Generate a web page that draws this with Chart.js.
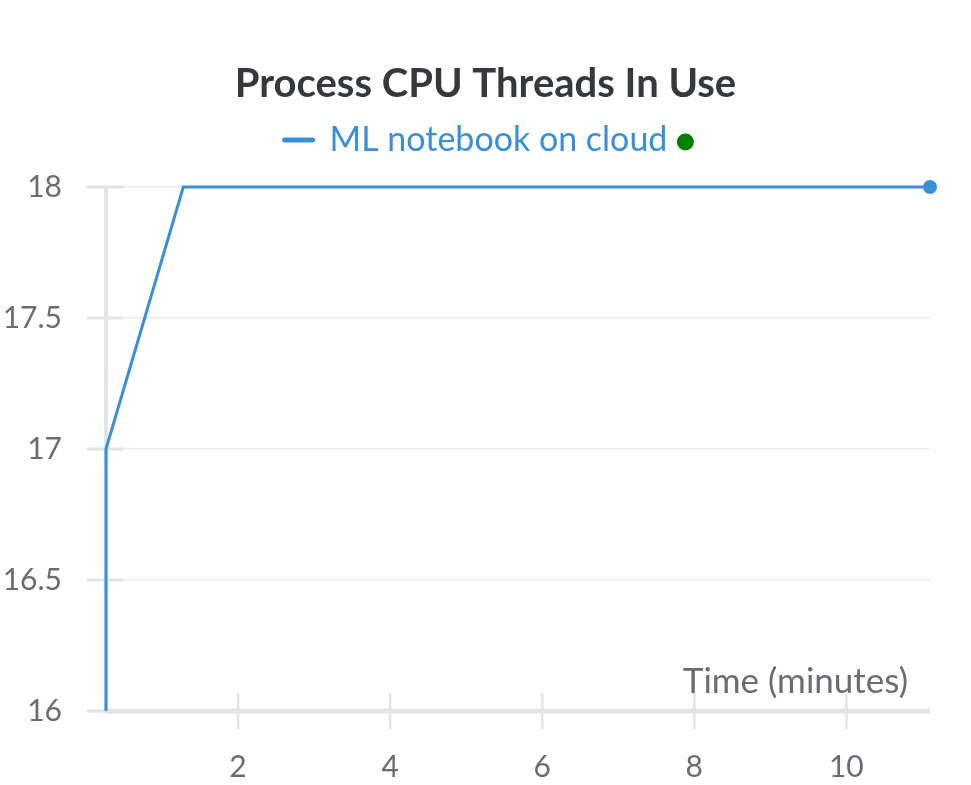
<!DOCTYPE html>
<html><head><meta charset="utf-8">
<script src="https://cdn.jsdelivr.net/npm/chart.js@4/dist/chart.umd.min.js"></script>
<style>html,body{margin:0;padding:0;background:#fff}#wrap{width:971px;height:785px;position:relative}</style>
</head><body><div id="wrap"><canvas id="c"></canvas></div>
<script>
const chartTitle = 'Process CPU Threads In Use';
const seriesLabel = 'ML notebook on cloud';
const xAxisTitle = 'Time (minutes)';
const timeMinutes = [0.263, 0.263, 1.28, 3, 5, 7, 9, 11.1];
const threads = [16, 17, 18, 18, 18, 18, 18, 18];
const xTickValues = [2, 4, 6, 8, 10];
const yTickValues = [16, 16.5, 17, 17.5, 18];

const FONT = 'Lato';
const AXIS_GREY = '#e4e4e6';
const LABEL_GREY = '#6b6b76';
const BLUE = '#3a8fdc';

const headerPlugin = {
  id: 'headerLayout',
  beforeLayout(chart) {
    const lg = chart.legend;
    if (lg && !lg._spaced) {
      const f = lg.fit.bind(lg);
      lg.fit = function () { f(); this.height += 20; };
      lg._spaced = true;
    }
  },
  afterLayout(chart) {
    // centre title and legend (with status dot) on the full canvas width
    if (chart.titleBlock) { chart.titleBlock.left = 0; chart.titleBlock.right = chart.width; chart.titleBlock.width = chart.width; }
    if (chart.legend) { chart.legend.left = 0; chart.legend.right = chart.width - 19; chart.legend.width = chart.width - 19; }
  }
};

const axisPlugin = {
  id: 'axisDecor',
  beforeDatasetsDraw(chart) {
    const {ctx, chartArea: a, scales} = chart;
    ctx.save();
    ctx.strokeStyle = AXIS_GREY;
    ctx.lineWidth = 4;
    ctx.beginPath(); ctx.moveTo(a.left, a.top); ctx.lineTo(a.left, a.bottom + 2); ctx.stroke();
    ctx.lineWidth = 3;
    yTickValues.forEach(v => {
      const y = scales.y.getPixelForValue(v);
      ctx.beginPath(); ctx.moveTo(a.left - 19, y); ctx.lineTo(a.left + 17, y); ctx.stroke();
    });
    ctx.lineWidth = 5;
    ctx.beginPath(); ctx.moveTo(a.left, a.bottom); ctx.lineTo(a.right, a.bottom); ctx.stroke();
    ctx.lineWidth = 2.5;
    xTickValues.forEach(v => {
      const x = scales.x.getPixelForValue(v);
      ctx.beginPath(); ctx.moveTo(x, a.bottom - 18); ctx.lineTo(x, a.bottom + 18); ctx.stroke();
    });
    ctx.fillStyle = LABEL_GREY;
    ctx.font = '35px ' + FONT;
    ctx.textAlign = 'right';
    ctx.textBaseline = 'alphabetic';
    ctx.fillText(xAxisTitle, a.right - 22, a.bottom - 18);
    ctx.restore();
  },
  afterDraw(chart) {
    const lg = chart.legend;
    if (!lg || !lg.legendHitBoxes || !lg.legendHitBoxes.length) return;
    const hb = lg.legendHitBoxes[0];
    const ctx = chart.ctx;
    ctx.save();
    ctx.fillStyle = '#008000';
    ctx.beginPath();
    ctx.arc(hb.left + hb.width + 18, hb.top + hb.height / 2 + 2, 8.5, 0, Math.PI * 2);
    ctx.fill();
    ctx.restore();
  }
};

new Chart(document.getElementById('c'), {
  type: 'line',
  data: {
    datasets: [{
      label: seriesLabel,
      data: timeMinutes.map((t, i) => ({x: t, y: threads[i]})),
      borderColor: BLUE,
      backgroundColor: BLUE,
      borderWidth: 3,
      pointRadius: threads.map((_, i) => i === threads.length - 1 ? 7 : 0),
      pointHoverRadius: 7,
      pointBorderWidth: 0,
      tension: 0,
      clip: false
    }]
  },
  options: {
    responsive: true,
    maintainAspectRatio: false,
    animation: false,
    layout: {padding: {left: 0, right: 41, top: 0, bottom: 0}},
    plugins: {
      title: {
        display: true,
        text: chartTitle,
        color: '#35383d',
        font: {family: FONT, size: 40, weight: 'bold'},
        padding: {top: 60, bottom: 0}
      },
      legend: {
        display: true,
        labels: {
          color: BLUE,
          font: {family: FONT, size: 34},
          usePointStyle: true,
          pointStyle: 'line',
          pointStyleWidth: 28,
          padding: 15,
          generateLabels(chart) {
            const ds = chart.data.datasets[0];
            return [{
              text: ds.label, fillStyle: BLUE, strokeStyle: BLUE, lineWidth: 5,
              lineCap: 'round', pointStyle: 'line', fontColor: BLUE, datasetIndex: 0, hidden: false
            }];
          }
        }
      },
      tooltip: {enabled: false}
    },
    scales: {
      x: {
        type: 'linear',
        min: 0.263,
        max: 11.1,
        afterBuildTicks(s) { s.ticks = xTickValues.map(v => ({value: v})); },
        afterFit(s) { s.height = 74; },
        grid: {display: false, drawTicks: false},
        border: {display: false},
        ticks: {color: LABEL_GREY, font: {family: FONT, size: 30}, padding: 38, maxRotation: 0, callback: v => String(v)}
      },
      y: {
        type: 'linear',
        min: 16,
        max: 18,
        afterBuildTicks(s) { s.ticks = yTickValues.map(v => ({value: v})); },
        afterFit(s) { s.width = 106; },
        grid: {color: '#ebebeb', lineWidth: 1.5, drawTicks: false},
        border: {display: false},
        ticks: {color: LABEL_GREY, font: {family: FONT, size: 30}, padding: 44, callback: v => String(v)}
      }
    }
  },
  plugins: [headerPlugin, axisPlugin]
});
</script></body></html>
